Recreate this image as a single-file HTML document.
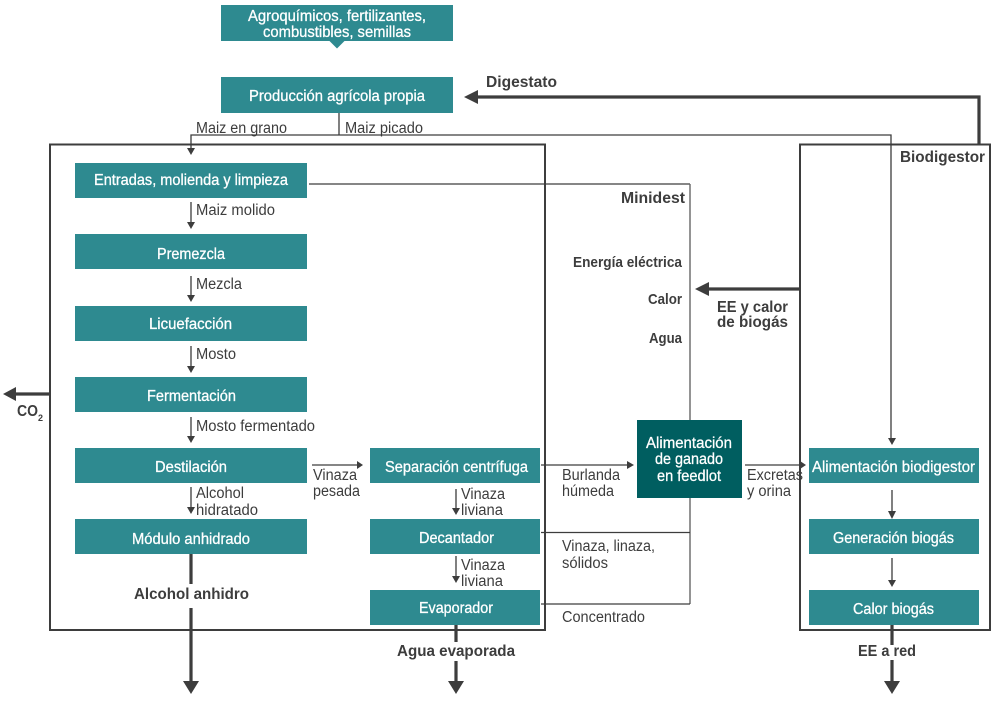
<!DOCTYPE html>
<html lang="es">
<head>
<meta charset="utf-8">
<title>Diagrama Minidest y Biodigestor</title>
<style>
html,body{margin:0;padding:0;background:#fff;width:1003px;height:701px;overflow:hidden}
svg{display:block}
text{font-family:"Liberation Sans",sans-serif;font-size:15.5px;fill:#3d3d3d}
.w{fill:#fff;stroke:#fff;stroke-width:.3px;font-size:16px}
.b{font-weight:bold;font-size:16px}
.t{fill:#2e8a90}
.l{fill:none;stroke:#3d3d3d;stroke-width:1.3}
.g{fill:none;stroke:#666;stroke-width:1.4}
.f{fill:none;stroke:#3d3d3d;stroke-width:2}
.h{fill:none;stroke:#3d3d3d;stroke-width:3.2}
.a{fill:#3d3d3d}
</style>
</head>
<body>
<svg width="1003" height="701" viewBox="0 0 1003 701" xmlns="http://www.w3.org/2000/svg">
<!-- containers -->
<rect class="f" x="50" y="144.5" width="495" height="485.5"/>
<rect class="f" x="800" y="144.5" width="190" height="485.5"/>

<!-- thin connectors -->
<path class="l" d="M339 113V135M191 148V135H891V438"/>
<path class="l" d="M309 184H690"/>
<path class="g" d="M690 184V420M690 498V604"/>
<path class="l" d="M541 532.500H690M541 604H690"/>
<path class="l" d="M191 202V223M191 276V296M191 346V367M191 417V437M191 487V508"/>
<path class="l" d="M456 489V509M456 556V577M892 490V512M892 558V581"/>
<path class="l" d="M312 465H357M541 465H627M745 465H800"/>
<path class="a" d="M187 148h8l-4 7zM187 222h8l-4 7zM187 295h8l-4 7zM187 366h8l-4 7zM187 436h8l-4 7zM187 507h8l-4 7zM452 508h8l-4 7zM452 576h8l-4 7zM888 438h8l-4 7zM888 511h8l-4 8zM888 580h8l-4 7zM357 461v8l6 -4zM627 461v8l7 -4zM800 461v8l6 -4z"/>

<!-- heavy connectors -->
<path class="h" d="M979 144V97H477"/>
<path class="a" d="M478 90v14l-14 -7z"/>
<path class="h" d="M800 289H708"/>
<path class="a" d="M709 282v14l-14 -7z"/>
<path class="h" d="M50 394H15"/>
<path class="a" d="M16 387v14l-13 -7z"/>
<path class="h" d="M191 554V584M191 608V682M456 625V642M456 661V682M892 625V645M892 660V682"/>
<path class="a" d="M183 681h16l-8 13zM448 681h16l-8 13zM884 681h16l-8 13z"/>

<!-- teal boxes -->
<rect class="t" x="221" y="5" width="232" height="36"/>
<path class="t" d="M329.500 41h15l-7.500 7.500z"/>
<rect class="t" x="221" y="77" width="232" height="36"/>
<rect class="t" x="75" y="163" width="232" height="35"/>
<rect class="t" x="75" y="234" width="232" height="35"/>
<rect class="t" x="75" y="306" width="232" height="35"/>
<rect class="t" x="75" y="377" width="232" height="35"/>
<rect class="t" x="75" y="448" width="232" height="35"/>
<rect class="t" x="75" y="519" width="232" height="35"/>
<rect class="t" x="370" y="448" width="170" height="35"/>
<rect class="t" x="370" y="519" width="170" height="35"/>
<rect class="t" x="370" y="590" width="170" height="35"/>
<rect class="t" x="809" y="448" width="170" height="35"/>
<rect class="t" x="809" y="519" width="170" height="35"/>
<rect class="t" x="809" y="590" width="170" height="35"/>
<rect x="637" y="420" width="105" height="78" fill="#005e60"/>

<!-- white labels -->
<g>
<text class="w" x="248" y="21" textLength="178" lengthAdjust="spacingAndGlyphs">Agroquímicos, fertilizantes,</text>
<text class="w" x="263" y="37" textLength="148" lengthAdjust="spacingAndGlyphs">combustibles, semillas</text>
<text class="w" x="249" y="101" textLength="176" lengthAdjust="spacingAndGlyphs">Producción agrícola propia</text>
<text class="w" x="94" y="185" textLength="194" lengthAdjust="spacingAndGlyphs">Entradas, molienda y limpieza</text>
<text class="w" x="157" y="259" textLength="68" lengthAdjust="spacingAndGlyphs">Premezcla</text>
<text class="w" x="149" y="329" textLength="83" lengthAdjust="spacingAndGlyphs">Licuefacción</text>
<text class="w" x="147" y="401" textLength="89" lengthAdjust="spacingAndGlyphs">Fermentación</text>
<text class="w" x="155" y="472" textLength="72" lengthAdjust="spacingAndGlyphs">Destilación</text>
<text class="w" x="132" y="544" textLength="118" lengthAdjust="spacingAndGlyphs">Módulo anhidrado</text>
<text class="w" x="385" y="472" textLength="143" lengthAdjust="spacingAndGlyphs">Separación centrífuga</text>
<text class="w" x="419" y="543" textLength="75" lengthAdjust="spacingAndGlyphs">Decantador</text>
<text class="w" x="419" y="613" textLength="74" lengthAdjust="spacingAndGlyphs">Evaporador</text>
<text class="w" x="646" y="448" textLength="86" lengthAdjust="spacingAndGlyphs">Alimentación</text>
<text class="w" x="655" y="464" textLength="68" lengthAdjust="spacingAndGlyphs">de ganado</text>
<text class="w" x="657" y="481" textLength="64" lengthAdjust="spacingAndGlyphs">en feedlot</text>
<text class="w" x="812" y="472" textLength="163" lengthAdjust="spacingAndGlyphs">Alimentación biodigestor</text>
<text class="w" x="833" y="543" textLength="121" lengthAdjust="spacingAndGlyphs">Generación biogás</text>
<text class="w" x="853" y="614" textLength="81" lengthAdjust="spacingAndGlyphs">Calor biogás</text>
</g>

<!-- connector labels -->
<text x="196" y="133" textLength="91" lengthAdjust="spacingAndGlyphs">Maiz en grano</text>
<text x="345" y="133" textLength="78" lengthAdjust="spacingAndGlyphs">Maiz picado</text>
<text x="196" y="215" textLength="79" lengthAdjust="spacingAndGlyphs">Maiz molido</text>
<text x="196" y="289" textLength="46" lengthAdjust="spacingAndGlyphs">Mezcla</text>
<text x="196" y="359" textLength="40" lengthAdjust="spacingAndGlyphs">Mosto</text>
<text x="196" y="431" textLength="119" lengthAdjust="spacingAndGlyphs">Mosto fermentado</text>
<text x="196" y="498" textLength="48" lengthAdjust="spacingAndGlyphs">Alcohol</text>
<text x="196" y="515" textLength="62" lengthAdjust="spacingAndGlyphs">hidratado</text>
<text x="313" y="480" textLength="44" lengthAdjust="spacingAndGlyphs">Vinaza</text>
<text x="313" y="496" textLength="47" lengthAdjust="spacingAndGlyphs">pesada</text>
<text x="461" y="499" textLength="44" lengthAdjust="spacingAndGlyphs">Vinaza</text>
<text x="461" y="515" textLength="42" lengthAdjust="spacingAndGlyphs">liviana</text>
<text x="461" y="570" textLength="44" lengthAdjust="spacingAndGlyphs">Vinaza</text>
<text x="461" y="586" textLength="42" lengthAdjust="spacingAndGlyphs">liviana</text>
<text x="562" y="480" textLength="58" lengthAdjust="spacingAndGlyphs">Burlanda</text>
<text x="562" y="496" textLength="52" lengthAdjust="spacingAndGlyphs">húmeda</text>
<text x="562" y="551" textLength="93" lengthAdjust="spacingAndGlyphs">Vinaza, linaza,</text>
<text x="562" y="568" textLength="46" lengthAdjust="spacingAndGlyphs">sólidos</text>
<text x="562" y="622" textLength="83" lengthAdjust="spacingAndGlyphs">Concentrado</text>
<text x="747" y="480" textLength="56" lengthAdjust="spacingAndGlyphs">Excretas</text>
<text x="747" y="496" textLength="44" lengthAdjust="spacingAndGlyphs">y orina</text>

<!-- bold labels -->
<text class="b" x="486" y="87" textLength="71" lengthAdjust="spacingAndGlyphs">Digestato</text>
<text class="b" x="621" y="203" textLength="64" lengthAdjust="spacingAndGlyphs">Minidest</text>
<text class="b" x="900" y="162" textLength="85" lengthAdjust="spacingAndGlyphs">Biodigestor</text>
<text class="b" style="font-size:15px" x="573" y="267" textLength="109" lengthAdjust="spacingAndGlyphs">Energía eléctrica</text>
<text class="b" style="font-size:15px" x="648" y="304" textLength="34" lengthAdjust="spacingAndGlyphs">Calor</text>
<text class="b" style="font-size:15px" x="649" y="343" textLength="33" lengthAdjust="spacingAndGlyphs">Agua</text>
<text class="b" x="717" y="312" textLength="71" lengthAdjust="spacingAndGlyphs">EE y calor</text>
<text class="b" x="717" y="327" textLength="71" lengthAdjust="spacingAndGlyphs">de biogás</text>
<text class="b" x="134" y="599" textLength="115" lengthAdjust="spacingAndGlyphs">Alcohol anhidro</text>
<text class="b" x="397" y="656" textLength="118" lengthAdjust="spacingAndGlyphs">Agua evaporada</text>
<text class="b" x="858" y="656" textLength="58" lengthAdjust="spacingAndGlyphs">EE a red</text>
<text class="b" x="17" y="416" textLength="21" lengthAdjust="spacingAndGlyphs">CO</text>
<text class="b" style="font-size:9px" x="38" y="421">2</text>
</svg>
</body>
</html>
